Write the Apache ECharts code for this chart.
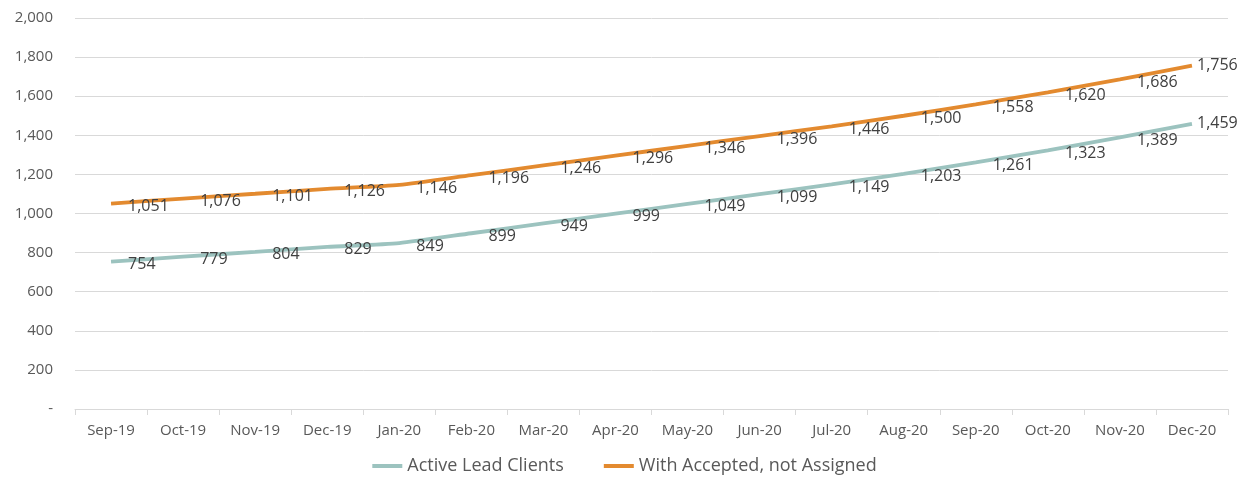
<!DOCTYPE html>
<html>
<head>
<meta charset="utf-8">
<script src="https://cdn.jsdelivr.net/npm/echarts@6/dist/echarts.min.js"></script>
<style>
  html, body { margin: 0; padding: 0; background: #fff; }
  #chart { width: 1249px; height: 483px; }
</style>
</head>
<body>
<div id="chart"></div>
<script>
  var months = ['Sep-19', 'Oct-19', 'Nov-19', 'Dec-19', 'Jan-20', 'Feb-20', 'Mar-20', 'Apr-20',
    'May-20', 'Jun-20', 'Jul-20', 'Aug-20', 'Sep-20', 'Oct-20', 'Nov-20', 'Dec-20'];
  var activeLead = [754, 779, 804, 829, 849, 899, 949, 999, 1049, 1099, 1149, 1203, 1261, 1323, 1389, 1459];
  var acceptedNotAssigned = [1051, 1076, 1101, 1126, 1146, 1196, 1246, 1296, 1346, 1396, 1446, 1500, 1558, 1620, 1686, 1756];

  var font = '"Open Sans", "Liberation Sans", sans-serif';
  var fmt = function (v) { return v === 0 ? '-' : v.toLocaleString('en-US'); };

  function lineSeries(name, values, color) {
    // last label sits closer to its point so it stays inside the chart
    var data = values.map(function (v, i) {
      return i === values.length - 1 ? { value: v, label: { distance: 5, offset: [0, 0] } } : v;
    });
    return {
      name: name,
      type: 'line',
      data: data,
      smooth: 0.2,
      symbol: 'circle',
      symbolSize: 0.1,
      showAllSymbol: true,
      lineStyle: { color: color, width: 3.8 },
      itemStyle: { color: color },
      label: {
        show: true, position: 'right', distance: 17, offset: [0, 3],
        color: '#404040', fontSize: 16, fontFamily: font,
        formatter: function (p) { return fmt(p.value); }
      }
    };
  }

  var chart = echarts.init(document.getElementById('chart'));
  chart.setOption({
    animation: false,
    textStyle: { fontFamily: font },
    grid: { left: 75, right: 21, top: 18, bottom: 74 },
    legend: {
      bottom: 3,
      itemWidth: 30,
      itemHeight: 4,
      itemGap: 40,
      icon: 'rect',
      textStyle: { color: '#595959', fontSize: 18, fontFamily: font },
      data: ['Active Lead Clients', 'With Accepted, not Assigned']
    },
    xAxis: {
      type: 'category',
      data: months,
      boundaryGap: true,
      axisLine: { lineStyle: { color: '#d9d9d9', width: 1 } },
      axisTick: { show: true, length: 6, lineStyle: { color: '#d9d9d9' } },
      axisLabel: { color: '#595959', fontSize: 15, margin: 14 }
    },
    yAxis: {
      type: 'value',
      min: 0,
      max: 2000,
      interval: 200,
      axisLine: { show: false },
      axisTick: { show: false },
      splitLine: { lineStyle: { color: '#d9d9d9', width: 1 } },
      axisLabel: { color: '#595959', fontSize: 15, margin: 22, formatter: fmt }
    },
    series: [
      lineSeries('Active Lead Clients', activeLead, '#9cc3bf'),
      lineSeries('With Accepted, not Assigned', acceptedNotAssigned, '#e38a2f')
    ]
  });
</script>
</body>
</html>
